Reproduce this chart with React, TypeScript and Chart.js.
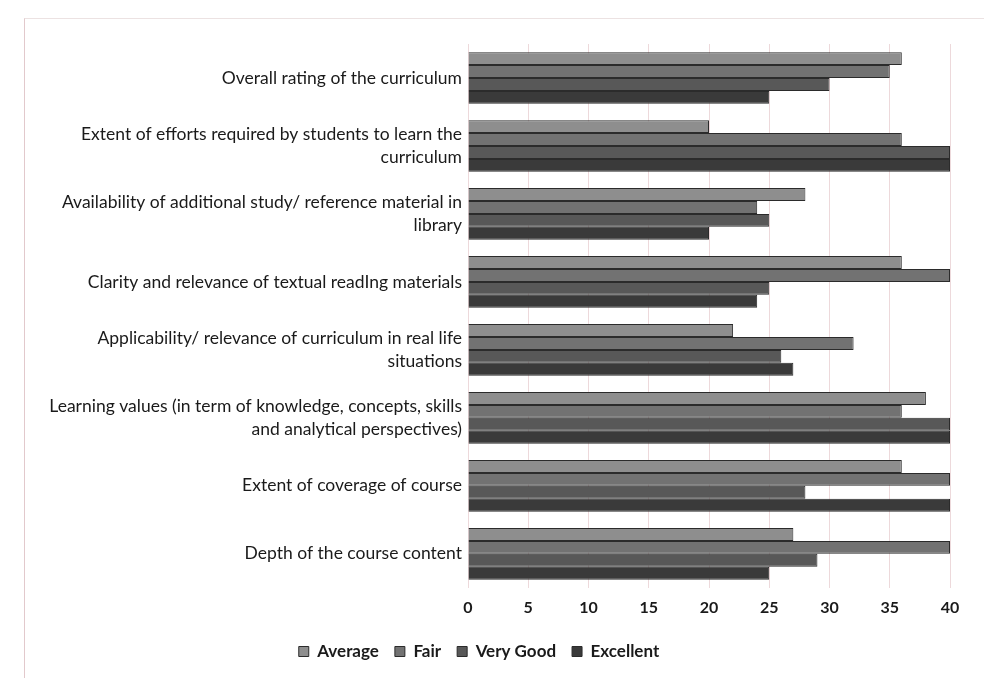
import React, { useEffect, useRef } from "react";
import { Chart, registerables } from "chart.js";

Chart.register(...registerables);

const categories: string[][] = [
  ["Overall rating of the curriculum"],
  ["Extent of efforts required by students to learn the", "curriculum"],
  ["Availability of additional study/ reference material in", "library"],
  ["Clarity and relevance of textual readIng materials"],
  ["Applicability/ relevance of curriculum in real life", "situations"],
  ["Learning values (in term of knowledge, concepts, skills", "and analytical perspectives)"],
  ["Extent of coverage of course"],
  ["Depth of the course content"],
];

const seriesNames = ["Average", "Fair", "Very Good", "Excellent"];
const averageValues = [36, 20, 28, 36, 22, 38, 36, 27];
const fairValues = [35, 36, 24, 40, 32, 36, 40, 40];
const veryGoodValues = [30, 40, 25, 25, 26, 40, 28, 29];
const excellentValues = [25, 40, 20, 24, 27, 40, 40, 25];
const xTicks = [0, 5, 10, 15, 20, 25, 30, 35, 40];

const fillColors = ["#8e8e8e", "#727272", "#585858", "#3a3a3a"];

export default function App() {
  const ref = useRef<HTMLCanvasElement | null>(null);

  useEffect(() => {
    if (!ref.current) return;
    const all = [averageValues, fairValues, veryGoodValues, excellentValues];
    const chart = new Chart(ref.current, {
      type: "bar",
      data: {
        labels: categories,
        datasets: all.map((vals, i) => ({
          label: seriesNames[i],
          data: vals,
          backgroundColor: fillColors[i],
          borderColor: "#2b2b2b",
          borderWidth: 1,
          barPercentage: 1,
          categoryPercentage: 0.76,
        })),
      },
      options: {
        indexAxis: "y",
        animation: false,
        responsive: false,
        layout: { padding: { top: 36, right: 34, left: 0, bottom: 8 } },
        scales: {
          x: {
            min: 0,
            max: 40,
            afterBuildTicks: (scale: any) => {
              scale.ticks = xTicks.map((v) => ({ value: v }));
            },
            grid: { color: "rgba(215,170,175,0.45)", drawTicks: false },
            border: { display: false },
            ticks: {
              color: "#1a1a1a",
              padding: 10,
              font: { family: "Lato", size: 16, weight: "bold" },
            },
          },
          y: {
            afterFit: (scale: any) => {
              scale.width = 460;
            },
            grid: { display: false, drawTicks: false },
            border: { display: false },
            ticks: {
              color: "#1a1a1a",
              padding: 6,
              font: { family: "Lato", size: 17.5, lineHeight: 1.3 },
            },
          },
        },
        plugins: {
          legend: {
            position: "bottom",
            labels: {
              color: "#1a1a1a",
              boxWidth: 10,
              boxHeight: 10,
              padding: 16,
              font: { family: "Lato", size: 17, weight: "bold" },
            },
          },
          tooltip: { enabled: false },
        },
      },
    });
    return () => chart.destroy();
  }, []);

  return (
    <div style={{ position: "relative", width: 976, height: 670 }}>
      <div
        style={{
          position: "absolute",
          left: 16,
          top: 10,
          width: 964,
          height: 660,
          borderLeft: "1px solid #e2c9cc",
          borderTop: "1px solid #ece2e2",
          borderBottom: "1px solid #d8c4c6",
          pointerEvents: "none",
        }}
      />
      <canvas ref={ref} width={976} height={670} style={{ display: "block" }} />
    </div>
  );
}
